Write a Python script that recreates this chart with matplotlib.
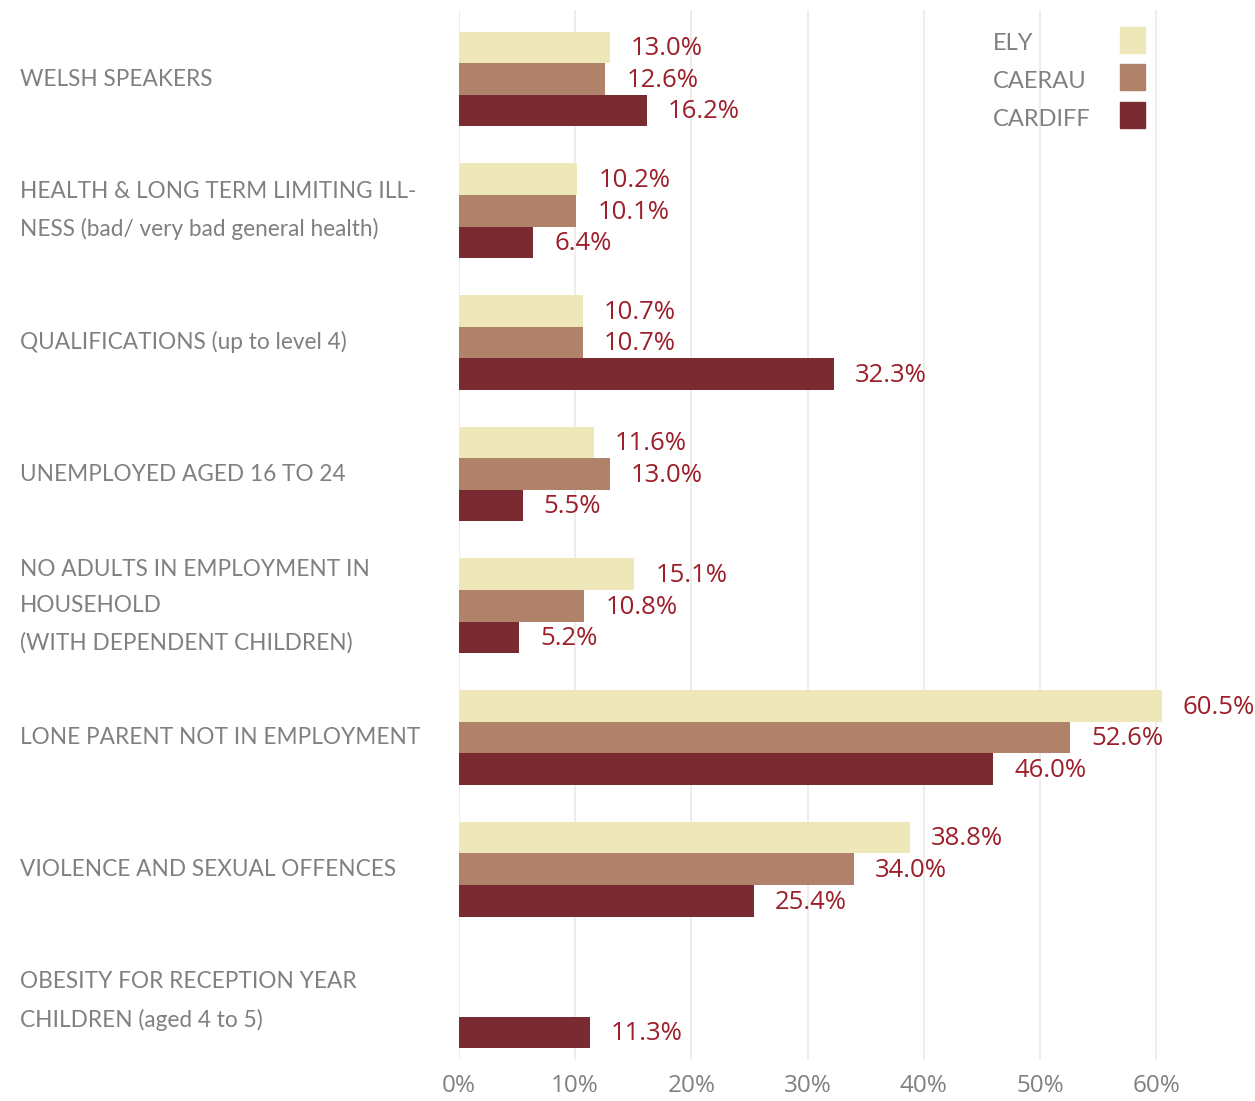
import matplotlib.pyplot as plt
import numpy as np
from matplotlib.patches import Rectangle

categories = [
    "WELSH SPEAKERS",
    "HEALTH & LONG TERM LIMITING ILL-\nNESS (bad/ very bad general health)",
    "QUALIFICATIONS (up to level 4)",
    "UNEMPLOYED AGED 16 TO 24",
    "NO ADULTS IN EMPLOYMENT IN\nHOUSEHOLD\n(WITH DEPENDENT CHILDREN)",
    "LONE PARENT NOT IN EMPLOYMENT",
    "VIOLENCE AND SEXUAL OFFENCES",
    "OBESITY FOR RECEPTION YEAR\nCHILDREN (aged 4 to 5)",
]
series_names = ["ELY", "CAERAU", "CARDIFF"]
ely = [13.0, 10.2, 10.7, 11.6, 15.1, 60.5, 38.8, None]
caerau = [12.6, 10.1, 10.7, 13.0, 10.8, 52.6, 34.0, None]
cardiff = [16.2, 6.4, 32.3, 5.5, 5.2, 46.0, 25.4, 11.3]
xticks = [0, 10, 20, 30, 40, 50, 60]
xtick_labels = ["0%", "10%", "20%", "30%", "40%", "50%", "60%"]

colors = ["#eee7b9", "#b0826a", "#7a2b31"]
value_color = "#9c1f2a"
grey = "#808080"

fig = plt.figure(figsize=(12.55, 11.01), dpi=100)
ax = fig.add_axes([0.3657, 0.0372, 0.574, 0.9537])

y = np.arange(len(categories))
h = 0.24
offsets = [-h, 0, h]
for vals, off, col in zip([ely, caerau, cardiff], offsets, colors):
    for i, v in enumerate(vals):
        if v is None:
            continue
        ax.barh(y[i] + off, v, height=h, color=col, zorder=2)
        ax.text(v + 1.8, y[i] + off + 0.01, f"{v:.1f}%", color=value_color,
                fontsize=18.5, family="Open Sans", va="center", ha="left",
                clip_on=False)

ax.set_xlim(0, 62)
ax.set_ylim(7.45, -0.524)
for t in xticks:
    ax.axvline(t, color="#ececec", lw=1.3, zorder=0)
ax.set_xticks(xticks)
ax.set_xticklabels(xtick_labels, color=grey, fontsize=17.5, family="Open Sans")
ax.tick_params(axis="x", length=0, pad=10)
ax.set_yticks([])
for s in ax.spines.values():
    s.set_visible(False)

for i, cat in enumerate(categories):
    fig.text(0.016, 1 - (79 + i * 131.7) / 1101, cat, color=grey,
             fontsize=16.3, family="Lato", va="center", ha="left",
             linespacing=1.9)

# legend
leg_y = [40, 77, 115]
for name, col, py in zip(series_names, colors, leg_y):
    fig.text(993 / 1255, 1 - (py + 4) / 1101, name, color=grey, fontsize=17,
             family="Lato", va="center", ha="left")
    fig.patches.append(Rectangle((1120 / 1255, 1 - (py + 13) / 1101),
                                 25 / 1255, 26 / 1101, color=col,
                                 transform=fig.transFigure, figure=fig))

fig.savefig("out.png", dpi=100)
